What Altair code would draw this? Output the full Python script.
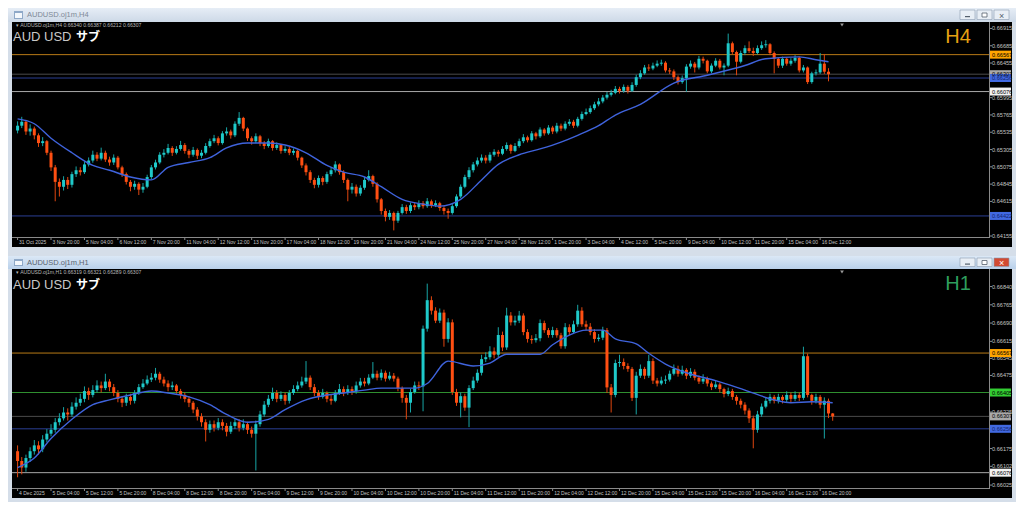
import altair as alt
import pandas as pd

# ---------------- H4 panel data (AUDUSD, 31 Oct 12:00 .. 16 Dec 20:00) ----------------
h4_open_first = 0.65558
h4_close = [
    0.65622, 0.65674, 0.65545, 0.65584, 0.65494, 0.65391, 0.65416, 0.65262, 0.65068, 0.64875,
    0.64810, 0.64901, 0.64836, 0.64978, 0.65030, 0.65004, 0.65107, 0.65159, 0.65236, 0.65184,
    0.65262, 0.65172, 0.65133, 0.65197, 0.65068, 0.64978, 0.64875, 0.64810, 0.64849, 0.64772,
    0.64810, 0.64939, 0.65068, 0.65133, 0.65236, 0.65262, 0.65326, 0.65262, 0.65313, 0.65365,
    0.65287, 0.65236, 0.65300, 0.65223, 0.65262, 0.65352, 0.65416, 0.65455, 0.65391, 0.65520,
    0.65545, 0.65494, 0.65648, 0.65726, 0.65584, 0.65455, 0.65416, 0.65481, 0.65391, 0.65352,
    0.65416, 0.65326, 0.65365, 0.65287, 0.65313, 0.65262, 0.65287, 0.65197, 0.65094, 0.65004,
    0.64901, 0.64836, 0.64926, 0.64875, 0.64978, 0.65030, 0.65107, 0.65004, 0.64901, 0.64772,
    0.64810, 0.64720, 0.64797, 0.64901, 0.64952, 0.64849, 0.64643, 0.64488, 0.64410, 0.64462,
    0.64359, 0.64462, 0.64539, 0.64488, 0.64565, 0.64539, 0.64591, 0.64552, 0.64617, 0.64565,
    0.64591, 0.64527, 0.64488, 0.64462, 0.64552, 0.64681, 0.64810, 0.64939, 0.65030, 0.65107,
    0.65159, 0.65197, 0.65159, 0.65236, 0.65275, 0.65249, 0.65313, 0.65365, 0.65287, 0.65352,
    0.65416, 0.65468, 0.65429, 0.65520, 0.65481, 0.65571, 0.65520, 0.65597, 0.65545, 0.65622,
    0.65584, 0.65648, 0.65674, 0.65622, 0.65713, 0.65777, 0.65803, 0.65854, 0.65906, 0.65945,
    0.65996, 0.66034, 0.66060, 0.66112, 0.66086, 0.66138, 0.66086, 0.66164, 0.66267, 0.66318,
    0.66396, 0.66383, 0.66421, 0.66447, 0.66460, 0.66357, 0.66344, 0.66267, 0.66202, 0.66254,
    0.66408, 0.66447, 0.66396, 0.66512, 0.66486, 0.66344, 0.66421, 0.66486, 0.66396, 0.66421,
    0.66718, 0.66601, 0.66473, 0.66589, 0.66653, 0.66615, 0.66589, 0.66653, 0.66692, 0.66705,
    0.66589, 0.66512, 0.66421, 0.66512, 0.66447, 0.66486, 0.66524, 0.66357, 0.66396, 0.66202,
    0.66318, 0.66331, 0.66447, 0.66340, 0.66307,
]
h4_high = [
    0.65680, 0.65740, 0.65700, 0.65640, 0.65610, 0.65520, 0.65470, 0.65430, 0.65290, 0.65100,
    0.64920, 0.64950, 0.64940, 0.65010, 0.65080, 0.65070, 0.65150, 0.65200, 0.65290, 0.65270,
    0.65330, 0.65290, 0.65210, 0.65240, 0.65220, 0.65090, 0.65000, 0.64900, 0.64890, 0.64870,
    0.64860, 0.64970, 0.65100, 0.65170, 0.65270, 0.65310, 0.65380, 0.65350, 0.65350, 0.65420,
    0.65390, 0.65310, 0.65340, 0.65320, 0.65300, 0.65390, 0.65450, 0.65500, 0.65480, 0.65550,
    0.65600, 0.65570, 0.65680, 0.65803, 0.65740, 0.65600, 0.65480, 0.65520, 0.65500, 0.65420,
    0.65450, 0.65430, 0.65400, 0.65380, 0.65350, 0.65340, 0.65320, 0.65300, 0.65210, 0.65120,
    0.65030, 0.64930, 0.64960, 0.64950, 0.65010, 0.65070, 0.65150, 0.65120, 0.65030, 0.64920,
    0.64860, 0.64840, 0.64830, 0.64940, 0.65030, 0.64970, 0.64870, 0.64660, 0.64520, 0.64500,
    0.64480, 0.64490, 0.64580, 0.64570, 0.64600, 0.64600, 0.64630, 0.64620, 0.64660, 0.64640,
    0.64630, 0.64610, 0.64550, 0.64520, 0.64580, 0.64710, 0.64840, 0.64970, 0.65070, 0.65140,
    0.65200, 0.65240, 0.65230, 0.65270, 0.65310, 0.65300, 0.65350, 0.65400, 0.65380, 0.65390,
    0.65450, 0.65510, 0.65490, 0.65550, 0.65540, 0.65600, 0.65590, 0.65630, 0.65620, 0.65660,
    0.65650, 0.65680, 0.65710, 0.65700, 0.65740, 0.65810, 0.65850, 0.65890, 0.65940, 0.65990,
    0.66030, 0.66070, 0.66100, 0.66150, 0.66140, 0.66170, 0.66160, 0.66200, 0.66300, 0.66360,
    0.66430, 0.66440, 0.66460, 0.66490, 0.66500, 0.66480, 0.66390, 0.66370, 0.66290, 0.66290,
    0.66440, 0.66490, 0.66470, 0.66550, 0.66540, 0.66500, 0.66450, 0.66520, 0.66510, 0.66450,
    0.66847, 0.66740, 0.66620, 0.66620, 0.66690, 0.66743, 0.66660, 0.66690, 0.66743, 0.66760,
    0.66720, 0.66610, 0.66530, 0.66540, 0.66530, 0.66520, 0.66560, 0.66540, 0.66430, 0.66410,
    0.66340, 0.66370, 0.66589, 0.66576, 0.66387,
]
h4_low = [
    0.65520, 0.65590, 0.65500, 0.65490, 0.65440, 0.65340, 0.65350, 0.65230, 0.65020, 0.64617,
    0.64680, 0.64760, 0.64780, 0.64800, 0.64940, 0.64960, 0.64980, 0.65080, 0.65130, 0.65150,
    0.65160, 0.65140, 0.65090, 0.65100, 0.65040, 0.64940, 0.64840, 0.64750, 0.64770, 0.64700,
    0.64730, 0.64790, 0.64910, 0.65040, 0.65110, 0.65200, 0.65240, 0.65220, 0.65240, 0.65290,
    0.65250, 0.65190, 0.65210, 0.65180, 0.65190, 0.65240, 0.65330, 0.65390, 0.65360, 0.65370,
    0.65490, 0.65450, 0.65470, 0.65620, 0.65550, 0.65420, 0.65370, 0.65390, 0.65350, 0.65310,
    0.65330, 0.65290, 0.65300, 0.65250, 0.65260, 0.65230, 0.65230, 0.65160, 0.65060, 0.64960,
    0.64860, 0.64790, 0.64800, 0.64830, 0.64850, 0.64950, 0.65000, 0.64970, 0.64860, 0.64617,
    0.64720, 0.64680, 0.64690, 0.64770, 0.64880, 0.64810, 0.64600, 0.64440, 0.64350, 0.64370,
    0.64230, 0.64330, 0.64440, 0.64450, 0.64460, 0.64500, 0.64510, 0.64520, 0.64530, 0.64530,
    0.64540, 0.64490, 0.64440, 0.64385, 0.64440, 0.64530, 0.64660, 0.64790, 0.64910, 0.65000,
    0.65080, 0.65130, 0.65120, 0.65130, 0.65210, 0.65210, 0.65230, 0.65290, 0.65250, 0.65270,
    0.65330, 0.65390, 0.65400, 0.65410, 0.65440, 0.65460, 0.65490, 0.65500, 0.65510, 0.65520,
    0.65550, 0.65560, 0.65620, 0.65590, 0.65600, 0.65690, 0.65760, 0.65780, 0.65830, 0.65880,
    0.65920, 0.65970, 0.66010, 0.66040, 0.66050, 0.66060, 0.66050, 0.66070, 0.66140, 0.66240,
    0.66300, 0.66350, 0.66360, 0.66400, 0.66420, 0.66330, 0.66310, 0.66230, 0.66170, 0.66180,
    0.66073, 0.66380, 0.66330, 0.66370, 0.66450, 0.66320, 0.66320, 0.66400, 0.66370, 0.66293,
    0.66400, 0.66570, 0.66293, 0.66450, 0.66560, 0.66590, 0.66550, 0.66570, 0.66630, 0.66660,
    0.66560, 0.66318, 0.66390, 0.66390, 0.66420, 0.66420, 0.66460, 0.66330, 0.66330, 0.66176,
    0.66180, 0.66290, 0.66310, 0.66310, 0.66212,
]
h4_ma_index = [0, 4, 8, 13, 18, 22, 27, 32, 36, 41, 46, 50, 55, 60, 64, 69, 74, 78, 83, 87,
               92, 97, 101, 106, 111, 115, 120, 125, 130, 134, 139, 143, 149, 157, 165, 174,
               179, 187, 191, 194]
h4_ma_value = [0.65713, 0.65648, 0.65455, 0.65262, 0.65094, 0.65030, 0.64940, 0.64901, 0.65068,
               0.65133, 0.65197, 0.65326, 0.65391, 0.65391, 0.65365, 0.65262, 0.65094, 0.65004,
               0.64940, 0.64811, 0.64643, 0.64579, 0.64553, 0.64643, 0.64901, 0.65107, 0.65236,
               0.65313, 0.65404, 0.65494, 0.65622, 0.65764, 0.65906, 0.66189, 0.66293, 0.66422,
               0.66512, 0.66537, 0.66499, 0.66473]
h4_time_labels = ["31 Oct 2025", "3 Nov 20:00", "5 Nov 04:00", "6 Nov 12:00", "7 Nov 20:00",
                  "11 Nov 04:00", "12 Nov 12:00", "13 Nov 20:00", "17 Nov 04:00", "18 Nov 12:00",
                  "19 Nov 20:00", "21 Nov 04:00", "24 Nov 12:00", "25 Nov 20:00", "27 Nov 04:00",
                  "28 Nov 12:00", "1 Dec 20:00", "3 Dec 04:00", "4 Dec 12:00", "5 Dec 20:00",
                  "9 Dec 04:00", "10 Dec 12:00", "11 Dec 20:00", "15 Dec 04:00", "16 Dec 12:00"]
h4_price_ticks = [0.66915, 0.66685, 0.66455, 0.65995, 0.65765, 0.65535, 0.65305,
                  0.65075, 0.64845, 0.64615, 0.64155]
h4_level_prices = [0.66567, 0.66307, 0.66256, 0.66076, 0.64422]
h4_level_kinds = ["orange", "gray", "blue", "white", "blue"]
h4_header = "AUDUSD.oj1m,H4  0.66340 0.66387 0.66212 0.66307"

# ---------------- H1 panel data (4 Dec 20:00 .. 16 Dec 23:00) ----------------
h1_open_first = 0.66164
h1_close = [
    0.66124, 0.66097, 0.66136, 0.66164, 0.66188, 0.66172, 0.66212, 0.66236, 0.66252, 0.66283,
    0.66299, 0.66323, 0.66315, 0.66347, 0.66363, 0.66379, 0.66411, 0.66395, 0.66415, 0.66434,
    0.66423, 0.66450, 0.66427, 0.66403, 0.66379, 0.66363, 0.66387, 0.66371, 0.66403, 0.66427,
    0.66442, 0.66458, 0.66466, 0.66482, 0.66458, 0.66442, 0.66427, 0.66434, 0.66411, 0.66395,
    0.66379, 0.66363, 0.66335, 0.66307, 0.66283, 0.66252, 0.66275, 0.66260, 0.66283, 0.66268,
    0.66244, 0.66268, 0.66283, 0.66260, 0.66275, 0.66252, 0.66236, 0.66275, 0.66315, 0.66355,
    0.66379, 0.66403, 0.66379, 0.66395, 0.66371, 0.66403, 0.66419, 0.66434, 0.66450, 0.66466,
    0.66427, 0.66403, 0.66387, 0.66403, 0.66379, 0.66371, 0.66403, 0.66419, 0.66403, 0.66419,
    0.66411, 0.66434, 0.66450, 0.66442, 0.66466, 0.66482, 0.66466, 0.66486, 0.66462, 0.66474,
    0.66462, 0.66423, 0.66383, 0.66363, 0.66407, 0.66434, 0.66430, 0.66667, 0.66784, 0.66741,
    0.66700, 0.66733, 0.66625, 0.66693, 0.66407, 0.66363, 0.66390, 0.66343, 0.66423, 0.66454,
    0.66486, 0.66542, 0.66550, 0.66574, 0.66560, 0.66641, 0.66590, 0.66721, 0.66693, 0.66700,
    0.66721, 0.66653, 0.66625, 0.66620, 0.66628, 0.66690, 0.66661, 0.66641, 0.66661, 0.66640,
    0.66595, 0.66673, 0.66653, 0.66685, 0.66741, 0.66685, 0.66675, 0.66653, 0.66625, 0.66630,
    0.66661, 0.66426, 0.66395, 0.66526, 0.66530, 0.66514, 0.66502, 0.66383, 0.66474, 0.66502,
    0.66474, 0.66534, 0.66454, 0.66442, 0.66454, 0.66458, 0.66482, 0.66502, 0.66482, 0.66498,
    0.66474, 0.66490, 0.66466, 0.66450, 0.66462, 0.66442, 0.66427, 0.66438, 0.66419, 0.66399,
    0.66411, 0.66387, 0.66371, 0.66355, 0.66331, 0.66299, 0.66252, 0.66315, 0.66347, 0.66371,
    0.66387, 0.66371, 0.66387, 0.66375, 0.66395, 0.66379, 0.66395, 0.66383, 0.66554, 0.66395,
    0.66371, 0.66387, 0.66355, 0.66371, 0.66319, 0.66307,
]
h1_high = [
    0.66188, 0.66140, 0.66150, 0.66180, 0.66210, 0.66205, 0.66230, 0.66255, 0.66275, 0.66300,
    0.66320, 0.66345, 0.66340, 0.66365, 0.66385, 0.66400, 0.66430, 0.66425, 0.66435, 0.66455,
    0.66450, 0.66482, 0.66460, 0.66440, 0.66415, 0.66390, 0.66400, 0.66400, 0.66415, 0.66440,
    0.66460, 0.66475, 0.66485, 0.66506, 0.66490, 0.66470, 0.66455, 0.66450, 0.66440, 0.66420,
    0.66405, 0.66390, 0.66370, 0.66345, 0.66320, 0.66295, 0.66290, 0.66290, 0.66300, 0.66295,
    0.66280, 0.66285, 0.66300, 0.66295, 0.66295, 0.66285, 0.66265, 0.66290, 0.66330, 0.66370,
    0.66395, 0.66425, 0.66415, 0.66410, 0.66405, 0.66415, 0.66435, 0.66450, 0.66470, 0.66534,
    0.66475, 0.66440, 0.66415, 0.66420, 0.66410, 0.66395, 0.66415, 0.66440, 0.66430, 0.66435,
    0.66430, 0.66450, 0.66465, 0.66465, 0.66480, 0.66530, 0.66495, 0.66500, 0.66495, 0.66490,
    0.66485, 0.66470, 0.66430, 0.66395, 0.66420, 0.66450, 0.66450, 0.66680, 0.66852, 0.66800,
    0.66755, 0.66750, 0.66745, 0.66710, 0.66705, 0.66420, 0.66405, 0.66400, 0.66435, 0.66470,
    0.66500, 0.66560, 0.66570, 0.66595, 0.66590, 0.66673, 0.66655, 0.66753, 0.66735, 0.66720,
    0.66740, 0.66730, 0.66665, 0.66640, 0.66645, 0.66705, 0.66700, 0.66670, 0.66675, 0.66670,
    0.66650, 0.66690, 0.66685, 0.66700, 0.66765, 0.66755, 0.66700, 0.66690, 0.66665, 0.66645,
    0.66675, 0.66670, 0.66440, 0.66540, 0.66560, 0.66545, 0.66525, 0.66510, 0.66490, 0.66520,
    0.66510, 0.66560, 0.66545, 0.66465, 0.66470, 0.66475, 0.66495, 0.66520, 0.66515, 0.66515,
    0.66505, 0.66505, 0.66500, 0.66475, 0.66480, 0.66470, 0.66450, 0.66455, 0.66445, 0.66425,
    0.66425, 0.66420, 0.66395, 0.66380, 0.66365, 0.66340, 0.66310, 0.66330, 0.66360, 0.66385,
    0.66400, 0.66395, 0.66400, 0.66395, 0.66410, 0.66405, 0.66410, 0.66405, 0.66593, 0.66565,
    0.66400, 0.66400, 0.66395, 0.66385, 0.66380, 0.66321,
]
h1_low = [
    0.66057, 0.66069, 0.66080, 0.66120, 0.66150, 0.66150, 0.66160, 0.66200, 0.66225, 0.66240,
    0.66270, 0.66290, 0.66290, 0.66305, 0.66335, 0.66350, 0.66365, 0.66375, 0.66385, 0.66405,
    0.66405, 0.66415, 0.66410, 0.66390, 0.66365, 0.66345, 0.66350, 0.66355, 0.66360, 0.66395,
    0.66420, 0.66435, 0.66448, 0.66455, 0.66445, 0.66430, 0.66410, 0.66415, 0.66400, 0.66380,
    0.66365, 0.66345, 0.66320, 0.66290, 0.66265, 0.66204, 0.66240, 0.66245, 0.66250, 0.66250,
    0.66225, 0.66235, 0.66255, 0.66245, 0.66250, 0.66235, 0.66220, 0.66085, 0.66265, 0.66305,
    0.66345, 0.66370, 0.66365, 0.66370, 0.66355, 0.66360, 0.66395, 0.66410, 0.66425, 0.66440,
    0.66415, 0.66390, 0.66375, 0.66380, 0.66365, 0.66355, 0.66365, 0.66395, 0.66390, 0.66395,
    0.66395, 0.66400, 0.66425, 0.66430, 0.66435, 0.66460, 0.66455, 0.66455, 0.66450, 0.66455,
    0.66450, 0.66410, 0.66363, 0.66295, 0.66323, 0.66400, 0.66415, 0.66328, 0.66655, 0.66725,
    0.66690, 0.66690, 0.66593, 0.66610, 0.66395, 0.66350, 0.66303, 0.66330, 0.66263, 0.66415,
    0.66445, 0.66475, 0.66530, 0.66540, 0.66545, 0.66550, 0.66575, 0.66580, 0.66680, 0.66680,
    0.66690, 0.66640, 0.66610, 0.66605, 0.66610, 0.66615, 0.66650, 0.66630, 0.66630, 0.66630,
    0.66585, 0.66585, 0.66640, 0.66645, 0.66675, 0.66675, 0.66660, 0.66640, 0.66610, 0.66615,
    0.66620, 0.66403, 0.66323, 0.66385, 0.66510, 0.66500, 0.66490, 0.66370, 0.66315, 0.66465,
    0.66460, 0.66465, 0.66440, 0.66430, 0.66435, 0.66440, 0.66450, 0.66475, 0.66470, 0.66475,
    0.66460, 0.66465, 0.66455, 0.66440, 0.66440, 0.66430, 0.66415, 0.66420, 0.66405, 0.66385,
    0.66390, 0.66375, 0.66355, 0.66340, 0.66315, 0.66280, 0.66176, 0.66240, 0.66305, 0.66340,
    0.66360, 0.66360, 0.66360, 0.66360, 0.66365, 0.66365, 0.66370, 0.66370, 0.66375, 0.66385,
    0.66355, 0.66360, 0.66340, 0.66216, 0.66300, 0.66289,
]
h1_ma_index = [0, 4, 8, 13, 18, 22, 27, 32, 36, 41, 46, 50, 55, 60, 64, 69, 74, 78, 83, 87,
               95, 98, 103, 109, 113, 117, 125, 128, 132, 136, 140, 143, 148, 151, 155, 160,
               167, 174, 181, 185, 190, 195]
h1_ma_value = [0.66097, 0.66136, 0.66216, 0.66295, 0.66355, 0.66375, 0.66395, 0.66411, 0.66403,
               0.66387, 0.66355, 0.66315, 0.66283, 0.66295, 0.66335, 0.66375, 0.66395, 0.66403,
               0.66415, 0.66423, 0.66423, 0.66442, 0.66534, 0.66514, 0.66526, 0.66562, 0.66562,
               0.66601, 0.66641, 0.66661, 0.66661, 0.66625, 0.66605, 0.66566, 0.66522, 0.66486,
               0.66454, 0.66415, 0.66375, 0.66363, 0.66367, 0.66363]
h1_time_labels = ["4 Dec 2025", "5 Dec 04:00", "5 Dec 12:00", "5 Dec 20:00", "8 Dec 04:00",
                  "8 Dec 12:00", "8 Dec 20:00", "9 Dec 04:00", "9 Dec 12:00", "9 Dec 20:00",
                  "10 Dec 04:00", "10 Dec 12:00", "10 Dec 20:00", "11 Dec 04:00", "11 Dec 12:00",
                  "11 Dec 20:00", "12 Dec 04:00", "12 Dec 12:00", "12 Dec 20:00", "15 Dec 04:00",
                  "15 Dec 12:00", "15 Dec 20:00", "16 Dec 04:00", "16 Dec 12:00", "16 Dec 20:00"]
h1_price_ticks = [0.66840, 0.66765, 0.66690, 0.66615, 0.66545, 0.66475, 0.66325,
                  0.66175, 0.66102, 0.66025]
h1_level_prices = [0.66567, 0.66405, 0.66307, 0.66256, 0.66076]
h1_level_kinds = ["orange", "green", "gray", "blue", "white"]
h1_header = "AUDUSD.oj1m,H1  0.66319 0.66321 0.66289 0.66307"

# ---------------- styles ----------------
FONT = "Liberation Sans"
W = 1000
PAX = 977           # price scale separator (px)
UP, DOWN = "#1fc9c9", "#ff4f12"
UPW, DOWNW = "#17a5a5", "#e0460f"
LINE = {"orange": "#b87a16", "gray": "#4a4a4a", "blue": "#2b3f94", "white": "#a8a8a8", "green": "#2f8f2f"}
BOX = {"orange": "#ffa500", "gray": "#a9a9a9", "blue": "#4169e1", "white": "#f2f2f2", "green": "#32cd32"}
BOXTXT = {"orange": "#000000", "gray": "#000000", "blue": "#13246e", "white": "#000000", "green": "#000000"}
BG = "#d5dee9"


def one():
    return pd.DataFrame({"k": [0]})


def drect(x, x2, y, y2, color, **kw):
    return alt.Chart(one()).mark_rect(color=color, **kw).encode(
        x=alt.value(x), x2=alt.value(x2), y=alt.value(y), y2=alt.value(y2))


def dtext(x, y, text, **kw):
    return alt.Chart(one()).mark_text(text=text, **kw).encode(x=alt.value(x), y=alt.value(y))


def panel(open_first, closes, highs, lows, ma_i, ma_v, tlabels, pticks, lv_p, lv_k,
          ydom, H, axis_y, title_text, header, tf, tf_color, tbar_h, active):
    xs = alt.Scale(domain=[-0.14, 236.7], nice=False, zero=False)
    ys = alt.Scale(domain=ydom, nice=False, zero=False)
    n = len(closes)
    opens = [open_first] + closes[:-1]
    df = pd.DataFrame({"i": list(range(n)), "o": opens, "h": highs, "l": lows, "c": closes})
    X = alt.X("i:Q", scale=xs, axis=None)
    up = "datum.c >= datum.o"

    levels = pd.DataFrame({
        "p": lv_p,
        "lc": [LINE[k] for k in lv_k],
        "bc": [BOX[k] for k in lv_k],
        "tc": [BOXTXT[k] for k in lv_k],
        "t": [f"{p:.5f}" for p in lv_p],
    })
    ticks = pd.DataFrame({"p": pticks, "t": [f"{p:.5f}" for p in pticks]})
    tl = pd.DataFrame({"i": [8 * k for k in range(len(tlabels))], "t": tlabels})
    ma = pd.DataFrame({"i": ma_i, "v": ma_v})

    layers = []
    layers.append(alt.Chart(levels).mark_rule(strokeWidth=1).encode(
        y=alt.Y("p:Q", scale=ys, axis=None), x=alt.value(0), x2=alt.value(PAX),
        color=alt.Color("lc:N", scale=None)))
    layers.append(alt.Chart(df).mark_rule(strokeWidth=1, clip=True).encode(
        x=X, y=alt.Y("l:Q", scale=ys, axis=None), y2="h:Q",
        color=alt.condition(up, alt.value(UPW), alt.value(DOWNW))))
    layers.append(alt.Chart(df).mark_bar(size=3, clip=True).encode(
        x=X, y=alt.Y("o:Q", scale=ys, axis=None), y2="c:Q",
        color=alt.condition(up, alt.value(UP), alt.value(DOWN))))
    layers.append(alt.Chart(ma).mark_line(color="#3f63dc", strokeWidth=1.4, interpolate="monotone",
                                          clip=True).encode(
        x=alt.X("i:Q", scale=xs, axis=None), y=alt.Y("v:Q", scale=ys, axis=None)))
    # axes frame
    layers.append(drect(PAX, PAX + 1, 0, axis_y + 1, "#8a8a8a"))
    layers.append(drect(0, PAX, axis_y, axis_y + 1, "#8a8a8a"))
    # price ticks and labels
    layers.append(alt.Chart(ticks).mark_rule(color="#8a8a8a").encode(
        y=alt.Y("p:Q", scale=ys, axis=None), x=alt.value(PAX), x2=alt.value(PAX + 3)))
    layers.append(alt.Chart(ticks).mark_text(align="left", baseline="middle", fontSize=5.6,
                                             font=FONT, color="#c4c4c4").encode(
        y=alt.Y("p:Q", scale=ys, axis=None), x=alt.value(PAX + 3), text="t:N"))
    # time ticks and labels
    layers.append(alt.Chart(tl).mark_rule(color="#8a8a8a").encode(
        x=alt.X("i:Q", scale=xs, axis=None), y=alt.value(axis_y), y2=alt.value(axis_y + 3)))
    layers.append(alt.Chart(tl).mark_text(align="left", baseline="middle", dx=1.5, fontSize=5.0,
                                          font=FONT, color="#c4c4c4").encode(
        x=alt.X("i:Q", scale=xs, axis=None), y=alt.value(axis_y + 4.5), text="t:N"))
    # level boxes
    layers.append(alt.Chart(levels).mark_rect(yOffset=-4, y2Offset=4).encode(
        y=alt.Y("p:Q", scale=ys, axis=None), y2="p:Q", x=alt.value(PAX + 1), x2=alt.value(W - 1),
        color=alt.Color("bc:N", scale=None)))
    layers.append(alt.Chart(levels).mark_text(align="left", baseline="middle", fontSize=5.6,
                                              font=FONT).encode(
        y=alt.Y("p:Q", scale=ys, axis=None), x=alt.value(PAX + 3), text="t:N",
        color=alt.Color("tc:N", scale=None)))
    # header texts
    base_y = 19.3 if not active else 19.8
    layers.append(dtext(4, 2.7, "▾ " + header, fontSize=5.1, font=FONT, color="#b8b8b8",
                        align="left", baseline="middle"))
    layers.append(dtext(1, base_y, "AUD USD", fontSize=13, font=FONT,
                        color="#c8c8c8", align="left", baseline="alphabetic"))
    layers.append(dtext(64, base_y, "サブ", fontSize=12,
                        font="Noto Sans CJK JP", fontWeight="bold", color="#ffffff",
                        align="left", baseline="alphabetic"))
    layers.append(dtext(946, 21, tf, fontSize=20, font=FONT, color=tf_color, align="center",
                        baseline="alphabetic"))
    layers.append(alt.Chart(one()).mark_point(shape="triangle-down", filled=True, size=14,
                                              color="#9a9a9a", opacity=1).encode(
        x=alt.value(830), y=alt.value(3)))
    # window chrome: title bar
    grad = alt.LinearGradient(gradient="linear", x1=0, x2=0, y1=0, y2=1,
                              stops=[alt.GradientStop(color="#e6edf6" if not active else "#dbe8f6", offset=0),
                                     alt.GradientStop(color="#cdd9e7" if not active else "#b9d0ea", offset=1)])
    layers.append(drect(-4, W + 4, -tbar_h, 0, grad))
    layers.append(drect(2, 11, -tbar_h + 3, -3, "#8fa9c8"))
    layers.append(drect(3, 10, -tbar_h + 5, -4, "#f4f8fc"))
    layers.append(dtext(15, -tbar_h / 2, title_text, fontSize=7.5, font=FONT,
                        color="#7f8a97" if not active else "#5a6470", align="left", baseline="middle"))
    bx = [948, 965, 982]
    for k, x0 in enumerate(bx):
        col = "#e8eef5"
        if active and k == 2:
            col = "#d24a32"
        layers.append(drect(x0, x0 + 15, -tbar_h + 2, -2.5, col, stroke="#8c9bb0", strokeWidth=0.6))
    gy = -tbar_h / 2
    layers.append(drect(bx[0] + 5, bx[0] + 10, gy + 1, gy + 2.2, "#55606c"))
    layers.append(drect(bx[1] + 5, bx[1] + 10, gy - 2, gy + 2, "#ffffff", stroke="#55606c", strokeWidth=0.8))
    layers.append(dtext(bx[2] + 7.5, gy + 0.5, "×", fontSize=9, font=FONT,
                        color="#ffffff" if active else "#55606c", align="center", baseline="middle"))
    return alt.layer(*layers).properties(width=W, height=H)


p1 = panel(h4_open_first, h4_close, h4_high, h4_low,
           h4_ma_index, h4_ma_value, h4_time_labels, h4_price_ticks, h4_level_prices, h4_level_kinds,
           [0.64009, 0.67001], 225, 215, "AUDUSD.oj1m,H4", h4_header, "H4", "#e6a012", 14, False)

p2 = panel(h1_open_first, h1_close, h1_high, h1_low,
           h1_ma_index, h1_ma_value, h1_time_labels, h1_price_ticks, h1_level_prices, h1_level_kinds,
           [0.65972, 0.66912], 229, 219, "AUDUSD.oj1m,H1", h1_header, "H1", "#2e9e5e", 13, True)

p2 = alt.layer(p2, drect(-4, W + 4, 229, 233, BG)).properties(width=W, height=229)

chart = alt.vconcat(p1, p2, spacing=22, bounds="flush").properties(
    padding=0, background=BG
).configure_view(fill="black", stroke=None)

chart.save("out.html", embed_options={"renderer": "svg", "actions": False})
